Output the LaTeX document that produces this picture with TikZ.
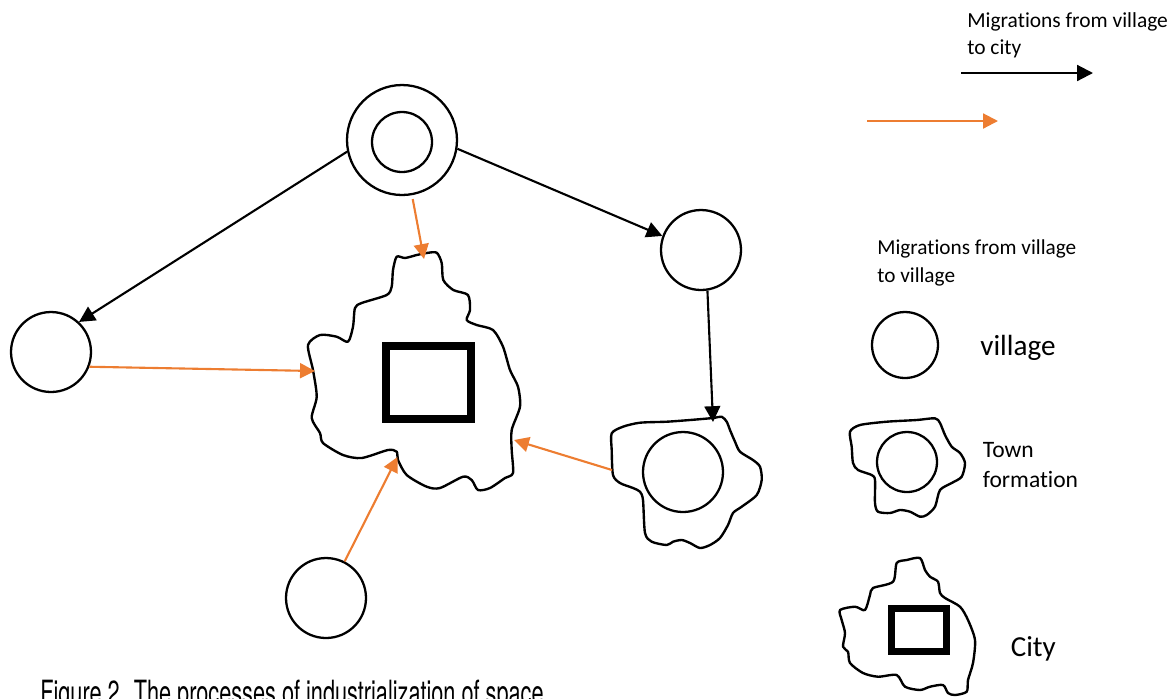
\documentclass[tikz,border=0pt]{standalone}
\usepackage{fontspec}
\setmainfont{Carlito}[Ligatures=CommonOff]
\newfontfamily\capfont[FakeStretch=0.65]{TeX Gyre Heros}
\usetikzlibrary{arrows.meta}
\definecolor{migorange}{RGB}{237,125,49}
\tikzset{
  vil/.style={circle, draw, line width=1.3pt, inner sep=0pt, minimum size=1.6cm},
  rim/.style={draw, line width=1.35pt, line join=round},
  blk/.style={draw=black, line width=1.2pt, -{Triangle[length=9pt,width=9pt]}},
  org/.style={draw=migorange, line width=1.2pt, -{Triangle[length=8.5pt,width=8.5pt]}},
  core/.style={draw, rectangle, inner sep=0pt},
  lbl/.style={anchor=base west, inner sep=0pt},
}
\begin{document}
\begin{tikzpicture}[x=0.02cm, y=-0.02cm]
\useasboundingbox (0,0) rectangle (1173,698);
\clip (0,0) rectangle (1173,698);

% ---------- villages ----------
\node[vil, minimum size=2.2cm] (top) at (402,140) {};
\node[vil, minimum size=1.2cm] (topin) at (402,142) {};
\node[vil] (lv) at (51,352) {};
\node[vil] (rv) at (701,250) {};
\node[vil] (bv) at (326,598) {};

% ---------- city ----------
\draw[rim] plot[smooth cycle, tension=0.45] coordinates {
 (396.7,256.7) (405,258) (416.7,255) (426.7,253) (436.7,252.7) (441.7,263)
 (443.3,280) (453.3,290) (468,295) (470,310) (466.7,320) (476.7,325)
 (493,330) (503,346.7) (510,370) (518,386.7) (520,406.7) (511.7,430)
 (511.7,450) (513,473) (505,478) (490,488) (478,490) (471.7,480)
 (463,476.7) (440,488) (426.7,486.7) (406.7,475) (398,460) (396.7,451.7)
 (388,450) (361.7,458) (343,455) (323,443) (320,433) (311.7,418)
 (316.7,396.7) (313,370) (308,345) (320,335) (336.7,336.7) (348,341.7)
 (353,326.7) (355,308) (361.7,303) (386.7,295) (391.7,286.7) (393,270)};
\node[core, line width=0.16cm, minimum width=1.70cm, minimum height=1.46cm] (city) at (428.3,382.2) {};
\coordinate (cityN) at (424,259);
\coordinate (cityW) at (315,371);
\coordinate (cityS) at (397.5,457);
\coordinate (cityE) at (514,440);

% ---------- town ----------
\draw[rim] plot[smooth cycle, tension=0.45] coordinates {
 (611.7,433.3) (623,426.7) (640,422.7) (666.7,421.7) (690,420) (713,418)
 (721.7,416.7) (726.7,421.7) (730,430) (735,441.7) (740,451.7) (753,460)
 (760,466.7) (761.7,480) (756.7,495) (741.7,506.7) (733,513) (728,525)
 (720,538) (710,545) (700,548) (690,543) (681.7,540) (673,541.7)
 (666.7,545) (651.7,541.7) (645,533) (643,500) (640,491.7) (633,488)
 (620,483) (613,475) (611.7,450)};
\node[vil] (town) at (683,472) {};
\coordinate (townN) at (713,422);
\coordinate (townW) at (612,470);

% ---------- migrations ----------
\draw[blk] (top.192) -- (lv.47);
\draw[blk] (top.-9) -- (rv.160);
\draw[blk] (rv.-81) -- (townN);
\draw[org] ([yshift=-0.08cm]top.-79) -- (cityN);
\draw[org] (lv.-21) -- (cityW);
\draw[org] (bv.63) -- (cityS);
\draw[org] (townW) -- (cityE);

% ---------- legend ----------
\node[lbl, font=\fontsize{12.2}{14}\selectfont] (l1a) at (967,27) {Migrations from village};
\node[lbl, font=\fontsize{12.2}{14}\selectfont] (l1b) at (967,54) {to city};
\coordinate (kb1) at (961,73);
\coordinate (kb2) at (1093,73);
\draw[blk] (kb1) -- (kb2);
\coordinate (ko1) at (867,121);
\coordinate (ko2) at (998,121);
\draw[org] (ko1) -- (ko2);
\node[lbl, font=\fontsize{12.1}{14}\selectfont] (l2a) at (877,254) {Migrations from village};
\node[lbl, font=\fontsize{12.1}{14}\selectfont] (l2b) at (877,282) {to village};

\node[vil, minimum size=1.32cm] (kvil) at (905,345) {};
\node[lbl, font=\fontsize{16.6}{20}\selectfont] (l3) at (980,355) {village};

\draw[rim] plot[smooth cycle, tension=0.45] coordinates {
 (850,431.7) (860,425) (886.7,421.7) (916.7,420) (935,418.3) (940,423)
 (945,435) (951.7,446.7) (960,453) (965,463) (961.7,476.7) (951.7,483)
 (940,490) (935,506.7) (926.7,515) (920,516.7) (910,511.7) (900,510)
 (890,513) (878,511.7) (875,503) (875,480) (871.7,475) (858,470)
 (853,463) (851.7,446.7)};
\node[vil, minimum size=1.2cm] (ktown) at (907,462) {};
\node[lbl, font=\fontsize{13.4}{16}\selectfont] (l4a) at (982.5,457) {Town};
\node[lbl, font=\fontsize{13.4}{16}\selectfont] (l4b) at (982.5,487.5) {formation};

\draw[rim] plot[smooth cycle, tension=0.45] coordinates {
 (840,610) (855,606.7) (865,610) (870,595) (873,588) (893,581.7)
 (896.7,563) (906.7,560) (920,558) (925,570) (930,576.7) (938,581.7)
 (940,593) (945,598) (960,606.7) (968,620) (975,640) (973,663)
 (968,680) (966.7,691.7) (955,695) (948,693) (943,685) (930,686.7)
 (920,690) (905,686.7) (896.7,675) (878,676.7) (863,673) (850,663)
 (848,651.7) (843,646.7) (845,633) (841.7,620)};
\node[core, line width=0.14cm, minimum width=1.10cm, minimum height=0.86cm] (kcity) at (919,630) {};
\node[lbl, font=\fontsize{16.5}{20}\selectfont] (l5) at (1010.5,656.5) {City};

% ---------- caption ----------
\node[lbl, font=\capfont\fontsize{19}{22}\selectfont] (cap) at (40,704) {Figure 2. The processes of industrialization of space};
\end{tikzpicture}
\end{document}
